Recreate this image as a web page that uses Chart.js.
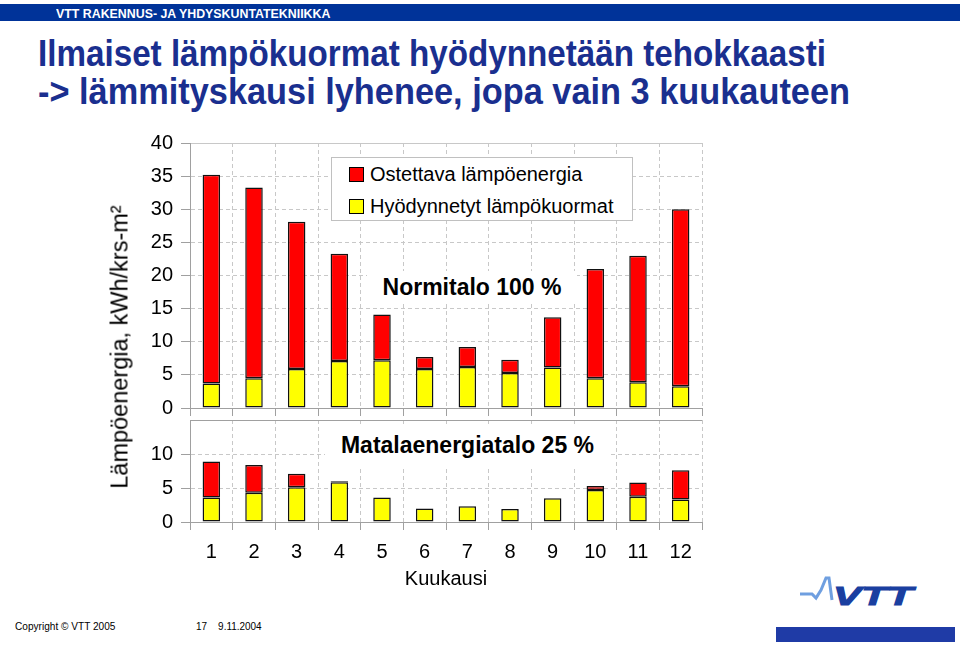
<!DOCTYPE html>
<html>
<head>
<meta charset="utf-8">
<script src="https://cdn.jsdelivr.net/npm/chart.js@4"></script>
<style>
  body { margin: 0; width: 960px; height: 645px; position: relative; overflow: hidden; background: #fff;
         font-family: "Liberation Sans", Arial, sans-serif; }
  .abs { position: absolute; }
  .narrow { white-space: nowrap; transform-origin: 0 0; line-height: 1; }
  #topbar { left: 0; top: 4px; width: 960px; height: 17px; background: #003399; }
  #topbar span { position: absolute; left: 56px; top: 3px; color: #fff; font-weight: bold; font-size: 13px; }
  .title { left: 38px; color: #1a2f8f; font-weight: bold; font-size: 37px; }
  #ytitle { left: 120px; top: 347px; font-size: 23.5px; white-space: nowrap; transform: translate(-50%, -50%) rotate(-90deg); }
  #legend { left: 331px; top: 157px; width: 300px; height: 62px; background: #fff; border: 1px solid #c0c0c0; font-size: 20px; }
  #legend div { position: absolute; left: 17px; white-space: nowrap; }
  #legend i { display: inline-block; width: 13px; height: 13px; border: 1px solid #000; margin-right: 6px; vertical-align: -1px; }
  .note { background: #fff; font-weight: bold; font-size: 23px; text-align: center; white-space: nowrap; }
  .foot { top: 621px; font-size: 11px; }
</style>
</head>
<body>
<div id="topbar" class="abs"><span class="narrow" id="bar">VTT RAKENNUS- JA YHDYSKUNTATEKNIIKKA</span></div>
<div class="abs title narrow" id="t1" style="top:35px">Ilmaiset lämpökuormat hyödynnetään tehokkaasti</div>
<div class="abs title narrow" id="t2" style="top:73px">-&gt; lämmityskausi lyhenee, jopa vain 3 kuukauteen</div>

<div class="abs" style="left:90px;top:123px;width:630px;height:305px"><canvas id="normi"></canvas></div>
<div class="abs" style="left:90px;top:400px;width:630px;height:193px"><canvas id="matala"></canvas></div>

<div id="ytitle" class="abs">Lämpöenergia, kWh/krs-m²</div>
<div id="legend" class="abs"></div>
<div class="abs note" style="left:367px;top:271px;width:210px;height:32px;line-height:32px">Normitalo 100 %</div>
<div class="abs note" style="left:325px;top:424px;width:285px;height:42px;line-height:42px">Matalaenergiatalo 25 %</div>

<div class="abs foot narrow" id="f1" style="left:15px">Copyright © VTT 2005</div>
<div class="abs foot narrow" id="f2" style="left:196px">17&nbsp;&nbsp;&nbsp;&nbsp;9.11.2004</div>

<svg class="abs" style="left:760px;top:570px" width="200" height="75">
  <polyline points="40,24 52,24 56,28 61,20 66,8 69,8 72,30" fill="none" stroke="#6f9fe0" stroke-width="3"/>
  <text x="73" y="35" font-family="Liberation Sans, Arial" font-weight="bold" font-style="italic" font-size="26" fill="#1a3fa0" stroke="#1a3fa0" stroke-width="1" textLength="80" lengthAdjust="spacingAndGlyphs">VTT</text>
  <rect x="16" y="57" width="179" height="15" fill="#1f3ba6"/>
</svg>

<script>
const months = ["1", "2", "3", "4", "5", "6", "7", "8", "9", "10", "11", "12"];

// Normitalo 100 %
const normiHyodynnetyt = [3.7, 4.5, 5.9, 7.1, 7.2, 5.9, 6.2, 5.3, 6.1, 4.5, 3.9, 3.3];
const normiOstettava   = [31.5, 28.8, 22.2, 16.2, 6.9, 1.8, 3.0, 2.0, 7.6, 16.5, 19.1, 26.7];

// Matalaenergiatalo 25 %
const matalaHyodynnetyt = [3.6, 4.3, 5.1, 5.85, 3.6, 2.0, 2.3, 1.9, 3.5, 4.7, 3.7, 3.3];
const matalaOstettava   = [5.3, 4.1, 2.0, 0.15, 0, 0, 0, 0, 0, 0.6, 2.1, 4.3];

const normiMax = 40;
const matalaMax = 15;
const tickStep = 5;

const seriesLabels = ["Ostettava lämpöenergia", "Hyödynnetyt lämpökuormat"];
const seriesColors = ["#ff0000", "#ffff00"];

Chart.defaults.font.family = '"Liberation Sans", Arial, sans-serif';
Chart.defaults.font.size = 20;
Chart.defaults.color = "#000";

const gridColor = "#c8c8c8";
const axisColor = "#a0a0a0";

function datasets(hyodyt, ostettava) {
  return [
    { label: seriesLabels[1], data: hyodyt, backgroundColor: seriesColors[1] },
    { label: seriesLabels[0], data: ostettava, backgroundColor: seriesColors[0] },
  ].map(d => Object.assign(d, { borderColor: "#111", borderWidth: 1.5, borderSkipped: false }));
}

function options(max, showMonths) {
  const isMax = c => c.tick && c.tick.value === max;
  return {
    responsive: true,
    maintainAspectRatio: false,
    animation: false,
    layout: { padding: { top: 12, right: 18, bottom: 2, left: 0 } },
    datasets: { bar: { barPercentage: 0.41, categoryPercentage: 1 } },
    plugins: { legend: { display: false }, tooltip: { enabled: false } },
    scales: {
      x: {
        stacked: true,
        grid: { color: gridColor, tickLength: 8, tickColor: axisColor, offset: true },
        border: { color: axisColor, dash: [4, 3] },
        ticks: { display: showMonths, padding: 10, maxRotation: 0 },
        title: { display: showMonths, text: "Kuukausi", padding: { top: -7, bottom: 0 } },
      },
      y: {
        stacked: true,
        min: 0,
        max: max,
        ticks: {
          stepSize: tickStep,
          padding: 8,
          callback: v => (showMonths && v === max ? "" : v),
        },
        grid: {
          color: c => (isMax(c) && showMonths ? axisColor : gridColor),
          tickLength: 9,
          tickColor: c => (isMax(c) && showMonths ? "rgba(0,0,0,0)" : axisColor),
        },
        border: { color: axisColor, dash: c => (isMax(c) ? [] : [4, 3]) },
        afterFit(scale) { scale.width = 100; },
      },
    },
  };
}

new Chart(document.getElementById("normi"), {
  type: "bar",
  data: { labels: months, datasets: datasets(normiHyodynnetyt, normiOstettava) },
  options: options(normiMax, false),
});

new Chart(document.getElementById("matala"), {
  type: "bar",
  data: { labels: months, datasets: datasets(matalaHyodynnetyt, matalaOstettava) },
  options: options(matalaMax, true),
});

// legend box inside the upper chart
const legend = document.getElementById("legend");
seriesLabels.forEach((label, i) => {
  const row = document.createElement("div");
  row.style.top = (i === 0 ? 5 : 37) + "px";
  row.innerHTML = '<i style="background:' + seriesColors[i] + '"></i>' + label;
  legend.appendChild(row);
});

// squeeze the narrow-font texts to the widths on the slide
[["t1", 788], ["t2", 812], ["bar", 274], ["f1", 100], ["f2", 66]].forEach(([id, w]) => {
  const el = document.getElementById(id);
  el.style.transform = "scaleX(" + (w / el.offsetWidth) + ")";
});
</script>
</body>
</html>
